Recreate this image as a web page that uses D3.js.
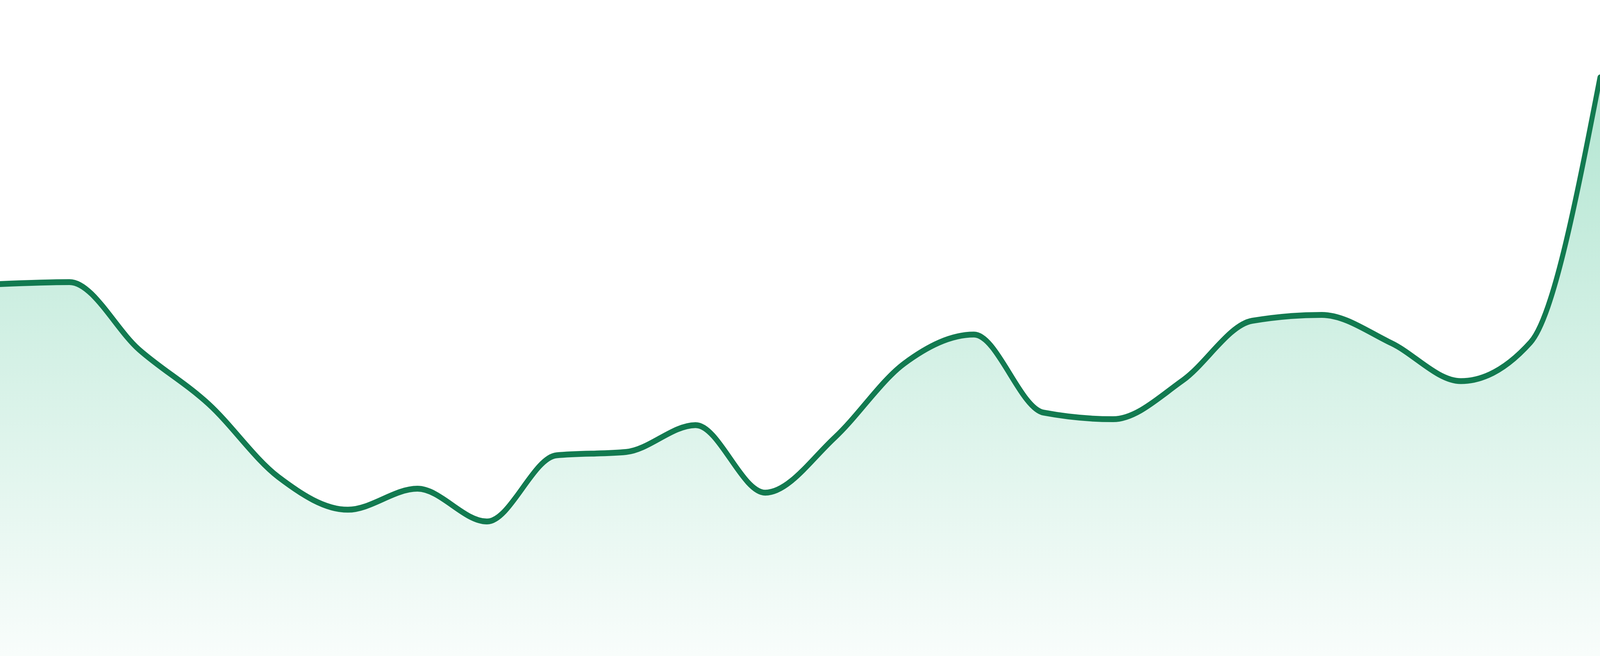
<!DOCTYPE html>
<html>
<head>
<meta charset="utf-8">
<script src="https://cdn.jsdelivr.net/npm/d3@7"></script>
<style>
  html, body { margin: 0; padding: 0; background: #ffffff; overflow: hidden; width: 100%; height: 100%; }
  svg { display: block; width: 100vw; height: 100vh; }
</style>
</head>
<body>
<svg id="chart" viewBox="0 0 4800 1680" preserveAspectRatio="none"></svg>
<script>
// Data (values on a 0–100 scale)
const categories = d3.range(24).map(i => "P" + (i + 1));
const values = [56.7, 57.0, 46.7, 38.4, 27.3, 22.3, 25.5, 20.5, 30.6, 31.1, 35.2, 24.9,
                33.3, 44.6, 49.0, 37.1, 36.1, 42.0, 51.1, 52.0, 47.7, 41.9, 47.8, 88.2];

const W = 4800, H = 1680;
const svg = d3.select("#chart");

const x = d3.scalePoint().domain(categories).range([0, W]);
const y = d3.scaleLinear().domain([0, 100]).range([H, 0]);

const data = categories.map((c, i) => ({ c, v: values[i] }));

const defs = svg.append("defs");
const grad = defs.append("linearGradient")
  .attr("id", "fillGrad")
  .attr("gradientUnits", "userSpaceOnUse")
  .attr("x1", 0).attr("x2", 0)
  .attr("y1", y(d3.max(values))).attr("y2", H);
grad.append("stop").attr("offset", "0%").attr("stop-color", "#1fb47a").attr("stop-opacity", 0.34);
grad.append("stop").attr("offset", "100%").attr("stop-color", "#1fb47a").attr("stop-opacity", 0.03);

const area = d3.area()
  .x(d => x(d.c))
  .y0(H)
  .y1(d => y(d.v))
  .curve(d3.curveMonotoneX);

const line = d3.line()
  .x(d => x(d.c))
  .y(d => y(d.v))
  .curve(d3.curveMonotoneX);

svg.append("path")
  .datum(data)
  .attr("d", area)
  .attr("fill", "url(#fillGrad)");

svg.append("path")
  .datum(data)
  .attr("d", line)
  .attr("fill", "none")
  .attr("stroke", "#127a50")
  .attr("stroke-width", 15)
  .attr("stroke-linecap", "round")
  .attr("stroke-linejoin", "round");
</script>
</body>
</html>
